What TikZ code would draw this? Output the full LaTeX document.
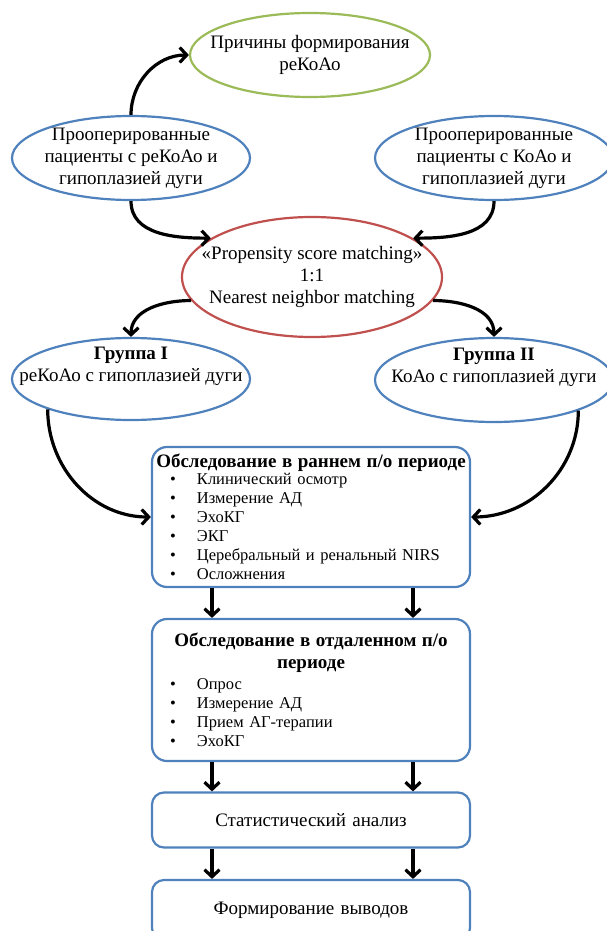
\documentclass[tikz,border=0pt]{standalone}
\usepackage{fontspec}
\setmainfont{Liberation Serif}
\usetikzlibrary{shapes.geometric,arrows.meta}

\definecolor{ovalblue}{HTML}{4F81BD}
\definecolor{ovalgreen}{HTML}{9BBB59}
\definecolor{ovalred}{HTML}{C0504D}

\newcommand{\bitem}[1]{\hspace*{12pt}\makebox[27pt][l]{\textbullet}#1}

\begin{document}
\begin{tikzpicture}[x=1pt, y=-1pt,
    oval/.style={ellipse, draw, line width=2.2pt, align=center,
    inner xsep=-60pt, inner ysep=-20pt, font=\fontsize{19}{22}\selectfont},
    stage/.style={rectangle, draw=ovalblue, line width=2.2pt, rounded corners=15pt,
    text width=306pt, inner xsep=6pt, align=left, font=\fontsize{16.5}{19}\selectfont},
    shortstage/.style={stage, rounded corners=12pt, align=center,
    font=\fontsize{19}{22}\selectfont},
    flow/.style={->, line width=3.2pt}, >={Straight Barb[length=7pt,width=15pt]}]
    \useasboundingbox (0,0) rectangle (607,931);
    \node[oval, draw=ovalgreen, minimum width=240pt, minimum height=84pt] (reason) at (310,55) {Причины формирования\\реКоАо};
    \node[oval, draw=ovalblue, minimum width=238pt, minimum height=84pt] (recpat) at (131,158) {Прооперированные\\пациенты с реКоАо и\\гипоплазией дуги};
    \node[oval, draw=ovalblue, minimum width=238pt, minimum height=84pt] (coapat) at (494,158) {Прооперированные\\пациенты с КоАо и\\гипоплазией дуги};
    \node[oval, draw=ovalred, minimum width=260pt, minimum height=120pt] (psm) at (312,277) {«Propensity score matching»\\1:1\\Nearest neighbor matching};
    \node[oval, draw=ovalblue, minimum width=238pt, minimum height=82pt] (grpone) at (131,379) {\textbf{Группа I}\\реКоАо с гипоплазией дуги\\\strut};
    \node[oval, draw=ovalblue, minimum width=238pt, minimum height=84pt] (grptwo) at (494,380) {\textbf{Группа II}\\КоАо с гипоплазией дуги\\\strut};
    \node[stage, minimum height=140pt] (early) at (311,517) {\makebox[306pt]{\fontsize{19}{22}\selectfont\bfseries Обследование в раннем п/о периоде}\\[-2pt]
        \bitem{Клинический осмотр}\\ \bitem{Измерение АД}\\ \bitem{ЭхоКГ}\\ \bitem{ЭКГ}\\
        \bitem{Церебральный и ренальный NIRS}\\ \bitem{Осложнения}};
    \node[stage, minimum height=142pt] (late) at (311,690) {\makebox[306pt]{\fontsize{19}{22}\selectfont\bfseries Обследование в отдаленном п/о}\\[3pt]
        \makebox[306pt]{\fontsize{19}{22}\selectfont\bfseries периоде}\\[2pt]
        \bitem{Опрос}\\ \bitem{Измерение АД}\\ \bitem{Прием АГ-терапии}\\ \bitem{ЭхоКГ}};
    \node[shortstage, minimum height=55pt] (stat) at (311,820) {Статистический анализ};
    \node[shortstage, minimum height=60pt] (concl) at (311,910) {Формирование выводов};
    \coordinate (lcol) at (212,0);
    \coordinate (rcol) at (413,0);
    \draw[flow] (recpat.north) to[out=90,in=180] (reason.west);
    \draw[flow] (recpat.south) to[out=-90,in=180] (psm.159);
    \draw[flow] (coapat.south) to[out=-90,in=0] (psm.21);
    \draw[flow] (psm.191) to[out=180,in=90] (grpone.north);
    \draw[flow] (psm.-11) to[out=0,in=90] (grptwo.north);
    \draw[flow] (grpone.200) to[out=-90,in=180] (early.west);
    \draw[flow] (grptwo.-20) to[out=-90,in=0] (early.east);
    \draw[flow] (early.south -| lcol) -- (late.north -| lcol);
    \draw[flow] (early.south -| rcol) -- (late.north -| rcol);
    \draw[flow] (late.south -| lcol) -- (stat.north -| lcol);
    \draw[flow] (late.south -| rcol) -- (stat.north -| rcol);
    \draw[flow] (stat.south -| lcol) -- (concl.north -| lcol);
    \draw[flow] (stat.south -| rcol) -- (concl.north -| rcol);
\end{tikzpicture}
\end{document}
